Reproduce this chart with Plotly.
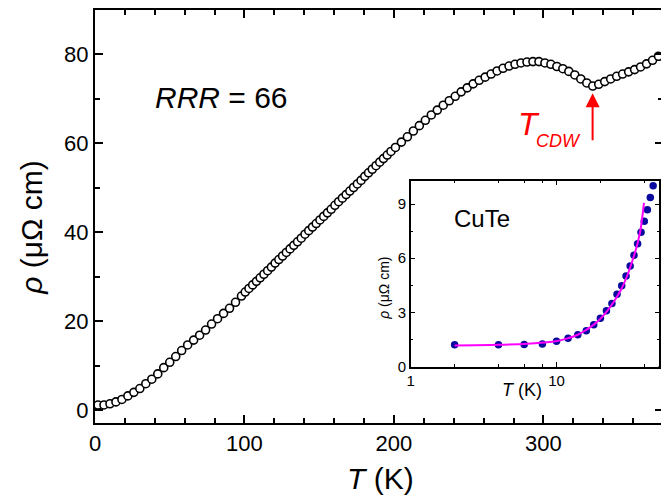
import plotly.graph_objects as go

# ---------------- main data: resistivity vs temperature ----------------
T_main = [2, 6, 10, 14, 18, 22, 26, 30, 34, 38, 42, 46, 50, 54, 58, 62, 66, 70, 74, 78,
          82, 86, 90, 94, 98,
          100.5, 103, 105.5, 108, 110.5, 113, 115.5, 118, 120.5, 123, 125.5, 128, 130.5,
          133, 135.5, 138, 140.5, 143, 145.5, 148, 150.5, 153, 155.5, 158, 160.5, 163,
          165.5, 168, 170.5, 173, 175.5, 178, 180.5, 183, 185.5, 188, 190.5, 193, 195.5, 198,
          201, 205, 209, 213, 217, 221, 225, 229, 233, 237, 241, 245, 249, 253, 257, 261,
          265, 269, 273, 277, 281, 285, 289, 293, 297,
          301, 305, 309, 313, 317, 321, 325, 329, 333, 337, 341, 345, 349, 353, 357, 361,
          365, 369, 373, 377]
rho_main = [1.2, 1.22, 1.48, 1.9, 2.45, 3.25, 4.05, 4.9, 6.0, 7.0, 8.2, 9.6, 10.8, 12.1,
            13.45, 14.7, 15.8, 16.9, 18.05, 19.4, 20.6, 21.8, 22.95, 24.3, 25.7,
            26.6, 27.4, 28.2, 29.0, 29.8, 30.6, 31.4, 32.2, 33.1, 33.9, 34.7, 35.5, 36.3,
            37.1, 37.9, 38.7, 39.6, 40.4, 41.2, 42.0, 42.8, 43.6, 44.4, 45.2, 46.1, 46.9,
            47.7, 48.5, 49.3, 50.1, 50.9, 51.7, 52.6, 53.4, 54.2, 55.0, 55.8, 56.6, 57.4, 58.2,
            59.1, 60.3, 61.5, 62.8, 64.0, 65.2, 66.4, 67.5, 68.6, 69.6, 70.6, 71.6, 72.5,
            73.4, 74.2, 74.9, 75.6, 76.3, 76.9, 77.4, 77.8, 78.1, 78.3, 78.4, 78.4,
            78.1, 77.8, 77.3, 76.8, 76.2, 75.4, 74.5, 73.6, 72.9, 73.3, 73.9, 74.5, 75.1,
            75.6, 76.1, 76.6, 77.2, 77.9, 78.7, 79.6]

# ---------------- inset data: CuTe low temperature ----------------
T_inset = [2, 4, 6, 8, 10, 12, 14, 16, 18, 20, 22, 24, 26, 28, 30, 32, 34, 36, 38, 40,
           42, 44, 46]
rho_inset = [1.20, 1.20, 1.22, 1.25, 1.40, 1.56, 1.76, 1.98, 2.31, 2.68, 3.09, 3.49, 4.00,
             4.47, 5.02, 5.57, 6.17, 6.80, 7.44, 8.05, 8.69, 9.37, 10.02]
T_fit = [2, 4, 6.7, 8.2, 9.9, 11.9, 14, 15.9, 18.2, 20.2, 22.5, 24.9, 27.8, 30.9, 33.4,
         35.8, 37.7, 39.8]
rho_fit = [1.17, 1.2, 1.28, 1.33, 1.40, 1.56, 1.76, 2.02, 2.35, 2.68, 3.12, 3.63, 4.28,
           5.14, 5.94, 6.76, 7.59, 9.06]

main_xticks = [0, 100, 200, 300]
main_yticks = [0, 20, 40, 60, 80]
inset_xticks = [1, 10]
inset_xticklabels = ["1", "10"]
inset_xminor = [2, 4, 6, 8, 20, 40]
inset_yticks = [0, 3, 6, 9]

T_cdw = 332.9

FONT = "Arial, Liberation Sans, sans-serif"

# The page body has an 8px margin, so the figure is drawn 8px smaller and all
# window-pixel positions below are converted accordingly.
OFF = 8
WIN_W, WIN_H = 669, 496
W, H = WIN_W - OFF, WIN_H - OFF
# plot area in window pixels
L, R, TOP, BOT = 95.3, 662.7, 8.0, 422.7
def px(x):
    return (x - L) / (R - L)
def py(y):
    return (BOT - y) / (BOT - TOP)

fig = go.Figure()

fig.add_trace(go.Scatter(
    x=T_main, y=rho_main, mode="markers", cliponaxis=False,
    marker=dict(symbol="circle", size=8, color="white",
                line=dict(color="black", width=1.6)),
    xaxis="x", yaxis="y", showlegend=False))

fig.add_trace(go.Scatter(
    x=T_inset, y=rho_inset, mode="markers", cliponaxis=False,
    marker=dict(symbol="circle", size=7.5, color="#0A0A9E", line=dict(width=0)),
    xaxis="x2", yaxis="y2", showlegend=False))

fig.add_trace(go.Scatter(
    x=T_fit, y=rho_fit, mode="lines", line=dict(color="#FF00FF", width=2, shape="spline"),
    xaxis="x2", yaxis="y2", showlegend=False))

axis_common = dict(showline=True, linecolor="black", mirror="ticks", ticks="inside",
                   tickcolor="black", showgrid=False, zeroline=False)

fig.update_layout(
    width=W, height=H,
    margin=dict(l=L - OFF, r=WIN_W - R, t=TOP - OFF, b=WIN_H - BOT, pad=0),
    paper_bgcolor="white", plot_bgcolor="white",
    font=dict(family=FONT, color="black"),
    xaxis=dict(**axis_common, domain=[0, 1], range=[0, 380], linewidth=2,
               tickvals=main_xticks, ticklen=8, tickwidth=1.5,
               tickfont=dict(size=22, family=FONT),
               minor=dict(dtick=20, tick0=0, ticklen=5, tickwidth=1.5, ticks="inside",
                          tickcolor="black")),
    yaxis=dict(**axis_common, domain=[0, 1], range=[-2.84, 90.0], linewidth=2,
               tickvals=main_yticks, ticklen=8, tickwidth=1.5,
               tickfont=dict(size=22, family=FONT),
               minor=dict(dtick=10, tick0=0, ticklen=5, tickwidth=1.5, ticks="inside",
                          tickcolor="black")),
    xaxis2=dict(**axis_common, type="log", anchor="y2",
                domain=[px(410.7), px(659)], range=[0, 1.705], linewidth=1.5,
                tickvals=inset_xticks, ticktext=inset_xticklabels, ticklen=5, tickwidth=1,
                tickfont=dict(size=15, family=FONT),
                minor=dict(tickvals=inset_xminor, ticklen=3, tickwidth=1, ticks="inside",
                           tickcolor="black")),
    yaxis2=dict(**axis_common, anchor="x2",
                domain=[py(366), py(179.3)], range=[0, 10.3], linewidth=1.5,
                tickvals=inset_yticks, ticklen=5, tickwidth=1,
                tickfont=dict(size=15, family=FONT),
                minor=dict(dtick=1.5, tick0=0, ticklen=3, tickwidth=1, ticks="inside",
                           tickcolor="black")),
)

annotations = [
    # main axis titles
    dict(text="<i>T</i> (K)", x=px(380), y=py(478), xref="paper", yref="paper",
         showarrow=False, font=dict(size=30, family=FONT), xanchor="center", yanchor="middle"),
    dict(text="<i>ρ</i> (μΩ cm)", x=px(31), y=py(226), xref="paper", yref="paper",
         showarrow=False, textangle=-90, font=dict(size=30, family=FONT),
         xanchor="center", yanchor="middle"),
    # RRR label
    dict(text="<i>RRR</i> = 66", x=px(153), y=py(96), xref="paper", yref="paper",
         showarrow=False, font=dict(size=30, family=FONT), xanchor="left", yanchor="middle"),
    # T_CDW label (main letter and subscript)
    dict(text="<i>T</i>", x=px(516), y=py(122), xref="paper", yref="paper",
         showarrow=False, font=dict(size=32, family=FONT, color="#FF0000"),
         xanchor="left", yanchor="middle"),
    dict(text="<i>CDW</i>", x=px(534), y=py(140), xref="paper", yref="paper",
         showarrow=False, font=dict(size=18, family=FONT, color="#FF0000"),
         xanchor="left", yanchor="middle"),
    # arrow
    dict(x=T_cdw, y=71.3, ax=T_cdw, ay=60.4, xref="x", yref="y", axref="x", ayref="y",
         text="", showarrow=True, arrowhead=2, arrowsize=1.4, arrowwidth=2,
         arrowcolor="#FF0000"),
    # inset texts
    dict(text="CuTe", x=px(482), y=py(217), xref="paper", yref="paper", showarrow=False,
         font=dict(size=24, family=FONT), xanchor="center", yanchor="middle"),
    dict(text="<i>T</i> (K)", x=px(522), y=py(390), xref="paper", yref="paper",
         showarrow=False, font=dict(size=18, family=FONT), xanchor="center", yanchor="middle"),
    dict(text="<i>ρ</i> (μΩ cm)", x=px(384), y=py(288), xref="paper", yref="paper",
         showarrow=False, textangle=-90, font=dict(size=14, family=FONT),
         xanchor="center", yanchor="middle"),
]
fig.update_layout(annotations=annotations)

fig.write_html("out.html")
